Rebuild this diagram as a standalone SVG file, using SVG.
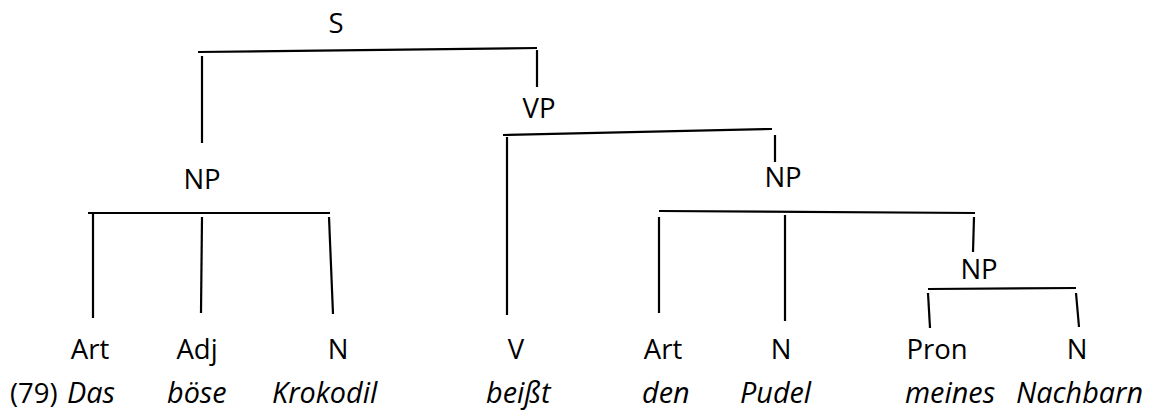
<svg xmlns="http://www.w3.org/2000/svg" width="1153" height="410" viewBox="0 0 1153 410">
  <style>
    .lbl { font-family: "Open Sans", "Noto Sans", sans-serif; font-size: 27.5px; fill: #000; text-anchor: middle; }
    .word { font-family: "Open Sans", "Noto Sans", sans-serif; font-size: 28.8px; font-style: italic; fill: #000; }
    .num { font-family: "Open Sans", "Noto Sans", sans-serif; font-size: 27.5px; fill: #000; }
    .edge { stroke: #000; stroke-width: 2.2; fill: none; stroke-linecap: butt; }
  </style>
  <rect width="1153" height="410" fill="#fff"/>

  <!-- branches of the tree -->
  <g id="connectors">
    <!-- S -->
    <line class="edge" x1="198" y1="52" x2="537" y2="48"/>
    <line class="edge" x1="202" y1="56" x2="202" y2="143"/>
    <line class="edge" x1="537" y1="50" x2="537" y2="87"/>
    <!-- VP -->
    <line class="edge" x1="503" y1="135" x2="772" y2="129"/>
    <line class="edge" x1="507" y1="137" x2="507" y2="315"/>
    <line class="edge" x1="775" y1="135" x2="775" y2="162"/>
    <!-- subject NP -->
    <line class="edge" x1="88" y1="213" x2="330" y2="213"/>
    <line class="edge" x1="93" y1="213" x2="93" y2="318"/>
    <line class="edge" x1="202" y1="217" x2="201" y2="313"/>
    <line class="edge" x1="329" y1="217" x2="333" y2="314"/>
    <!-- object NP -->
    <line class="edge" x1="659" y1="211" x2="975" y2="213"/>
    <line class="edge" x1="659" y1="217" x2="659" y2="313"/>
    <line class="edge" x1="785" y1="215" x2="785" y2="321"/>
    <line class="edge" x1="974" y1="217" x2="973" y2="252"/>
    <!-- genitive NP -->
    <line class="edge" x1="928" y1="289" x2="1076" y2="288"/>
    <line class="edge" x1="928" y1="293" x2="930" y2="328"/>
    <line class="edge" x1="1076" y1="293" x2="1079" y2="327"/>
  </g>

  <!-- phrase nodes -->
  <g id="node-S"><text class="lbl" x="336" y="33">S</text></g>
  <g id="node-VP"><text class="lbl" x="539" y="118">VP</text></g>
  <g id="node-NP-subj"><text class="lbl" x="202" y="189">NP</text></g>
  <g id="node-NP-obj"><text class="lbl" x="783" y="187">NP</text></g>
  <g id="node-NP-gen"><text class="lbl" x="979" y="279">NP</text></g>

  <!-- word classes -->
  <g id="node-Art1"><text class="lbl" x="90" y="359">Art</text></g>
  <g id="node-Adj"><text class="lbl" x="197" y="359">Adj</text></g>
  <g id="node-N1"><text class="lbl" x="338" y="359">N</text></g>
  <g id="node-V"><text class="lbl" x="516" y="359">V</text></g>
  <g id="node-Art2"><text class="lbl" x="663" y="359">Art</text></g>
  <g id="node-N2"><text class="lbl" x="781" y="359">N</text></g>
  <g id="node-Pron"><text class="lbl" x="937" y="359">Pron</text></g>
  <g id="node-N3"><text class="lbl" x="1077" y="359">N</text></g>

  <!-- example sentence -->
  <g id="sentence">
    <text class="num" x="10" y="403">(79)</text>
    <text class="word" x="67" y="403">Das</text>
    <text class="word" x="167" y="403">böse</text>
    <text class="word" x="272" y="403">Krokodil</text>
    <text class="word" x="486" y="403">beißt</text>
    <text class="word" x="642" y="403">den</text>
    <text class="word" x="740" y="403">Pudel</text>
    <text class="word" x="905" y="403">meines</text>
    <text class="word" x="1016" y="403">Nachbarn</text>
  </g>
</svg>
